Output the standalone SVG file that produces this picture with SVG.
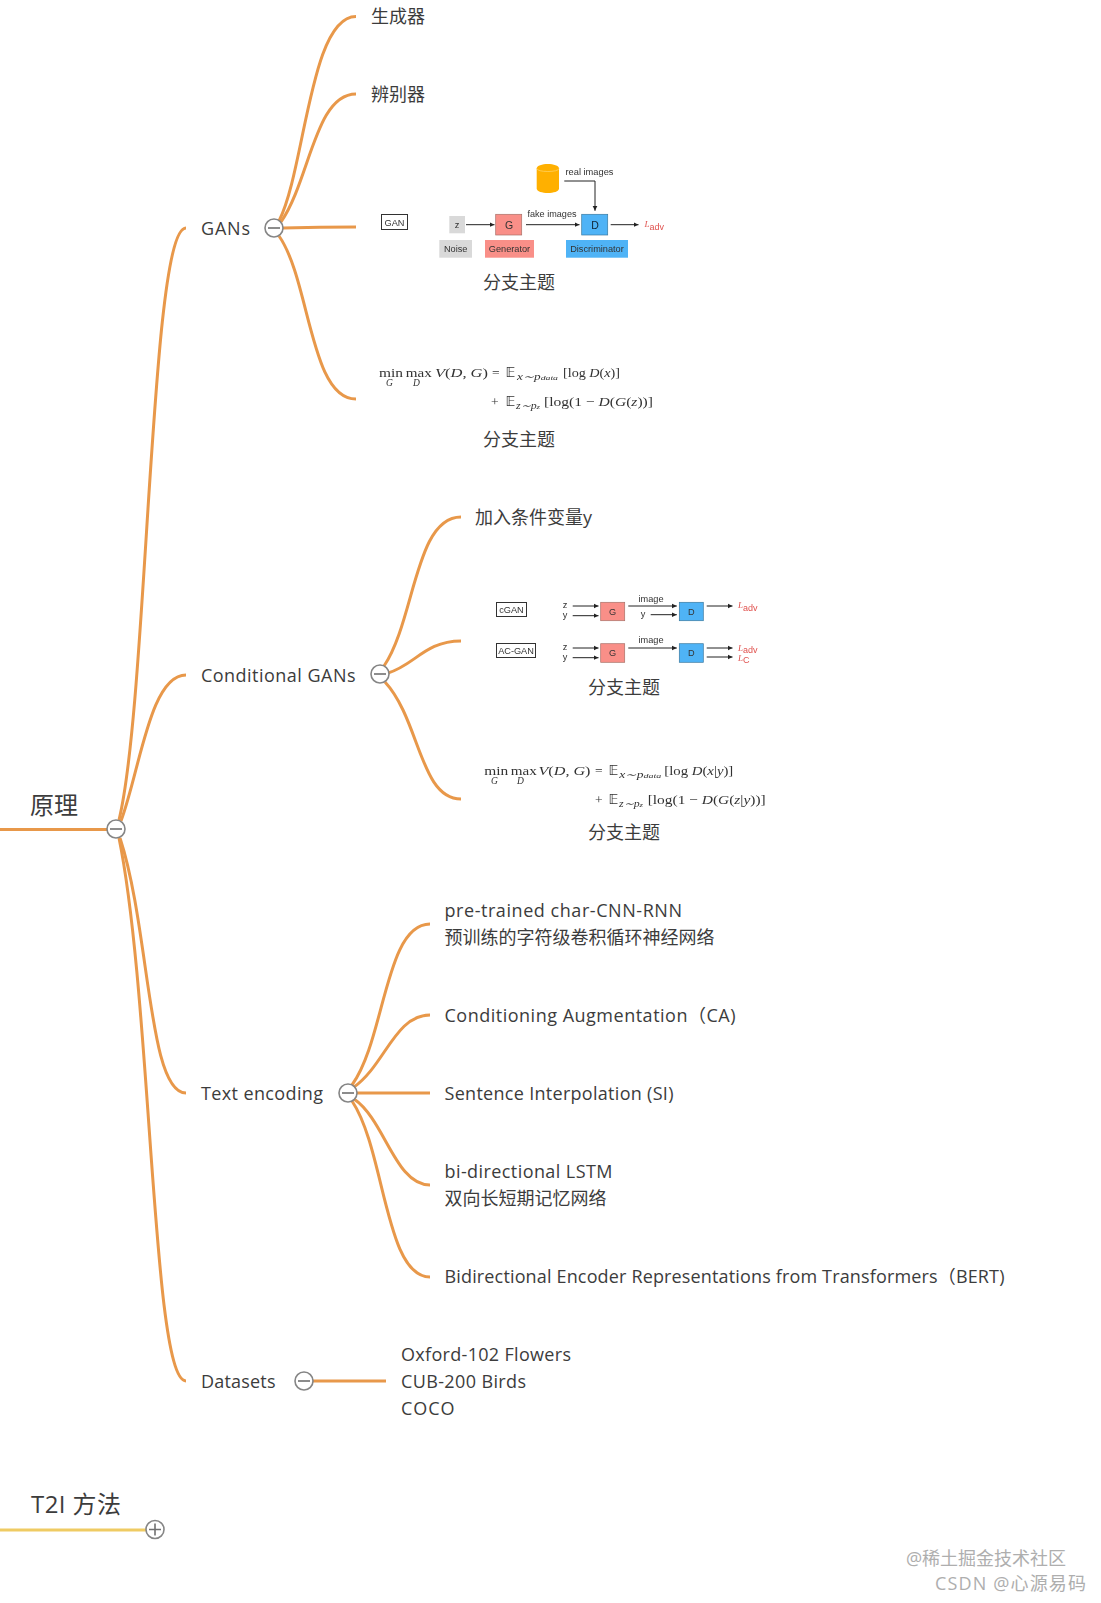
<svg xmlns="http://www.w3.org/2000/svg" width="1101" height="1603" viewBox="0 0 1101 1603">
<style>
text{font-family:"Open Sans","Noto Sans","Noto Sans CJK SC",sans-serif;fill:#3c3c3c}
.t{font-size:18px}
.r{font-size:24px}
.c{fill:none;stroke:#e8984a;stroke-width:3}
.y{stroke:#efcb63}
.k{fill:#fff;stroke:#858585;stroke-width:1.6}
.m{stroke:#707070;stroke-width:1.6;fill:none}
.f text{font-family:"Liberation Sans",Arial,sans-serif;fill:#333}
.b{fill:#fff;stroke:#333;stroke-width:1}
.g{fill:#f98f88;stroke:#a87068;stroke-width:.7}
.d{fill:#4fb3f6;stroke:#3a7aa0;stroke-width:.7}
.a{stroke:#222;stroke-width:1;fill:none;marker-end:url(#ar)}
.s{font-size:9.2px;text-anchor:middle}
.n{font-size:10.500px;text-anchor:middle}
.l{font-family:"Liberation Serif",serif!important;font-style:italic;fill:#e0524f!important;font-size:9px}
.e text{font-family:"Liberation Serif",serif;fill:#333;font-size:13.5px}
.e .i{font-style:italic}
.e .sm{font-style:italic;font-size:9.5px}
.e .db{font-family:"DejaVu Sans",sans-serif;font-size:13.5px}
.w{font-size:18px;fill:#aeaeae}
</style>
<defs>
<marker id="ar" markerUnits="userSpaceOnUse" markerWidth="6" markerHeight="6" refX="5" refY="3" orient="auto"><path d="M0 .6L5 3L0 5.4Z" fill="#222"/></marker>
<filter id="bl" x="-5%" y="-5%" width="110%" height="110%"><feGaussianBlur stdDeviation="0.3"/></filter>
</defs>
<rect width="1101" height="1603" fill="#fff"/>

<g id="connectors">
<path class="c" d="M0 829.5H107"/>
<path class="c" d="M119 820C148 700 150 228 186 228"/>
<path class="c" d="M121 821C140 770 150 675 186 675"/>
<path class="c" d="M120 838C150 930 148 1093 186 1093"/>
<path class="c" d="M119 838C152 1000 152 1381 186 1381"/>
<path class="c" d="M279 221C305 170 310 16.5 356 16.5"/>
<path class="c" d="M281 222C310 180 315 94 356 94"/>
<path class="c" d="M283 228Q320 227 356 227"/>
<path class="c" d="M279 236C310 280 310 399 356 399"/>
<path class="c" d="M384 666C415 620 415 517 461 517"/>
<path class="c" d="M388 673C415 665 425 641 461 641"/>
<path class="c" d="M385 682C420 720 420 799 461 799"/>
<path class="c" d="M352 1085C385 1040 385 924 430 924"/>
<path class="c" d="M354 1087C385 1065 395 1015 430 1015"/>
<path class="c" d="M357 1093H430"/>
<path class="c" d="M354 1099C385 1120 395 1185 430 1185"/>
<path class="c" d="M352 1101C385 1150 385 1277 430 1277"/>
<path class="c" d="M313 1381H386"/>
<path class="c y" d="M0 1530H146"/>
</g>

<g id="node-root1">
<text class="r" x="30" y="814">原理</text>
<circle class="k" cx="116" cy="829" r="9"/><path class="m" d="M110 829H122"/>
</g>
<g id="node-t2i">
<text class="r" x="31" y="1513" textLength="90">T2I 方法</text>
<circle class="k" cx="155" cy="1529.500" r="9"/><path class="m" d="M149 1529.500H161M155 1523.500V1535.500"/>
</g>

<g id="node-gans">
<text class="t" x="201" y="235" textLength="49">GANs</text>
<circle class="k" cx="274" cy="228" r="9"/><path class="m" d="M268 228H280"/>
</g>
<g id="node-cgans">
<text class="t" x="201" y="682" textLength="154.500">Conditional GANs</text>
<circle class="k" cx="380" cy="674" r="9"/><path class="m" d="M374 674H386"/>
</g>
<g id="node-text-encoding">
<text class="t" x="201" y="1100" textLength="122">Text encoding</text>
<circle class="k" cx="348" cy="1093" r="9"/><path class="m" d="M342 1093H354"/>
</g>
<g id="node-datasets">
<text class="t" x="201" y="1388" textLength="74.500">Datasets</text>
<circle class="k" cx="304" cy="1381" r="9"/><path class="m" d="M298 1381H310"/>
</g>

<g id="node-generator"><text class="t" x="371" y="23">生成器</text></g>
<g id="node-discriminator"><text class="t" x="371" y="101">辨别器</text></g>

<g id="node-gan-figure">
<g class="f" filter="url(#bl)">
<rect class="b" x="381.500" y="214.500" width="26" height="15"/>
<text class="s" x="394.500" y="225.500">GAN</text>
<rect x="449.300" y="216" width="15.700" height="17.300" fill="#d9d9d9"/>
<text class="s" x="457" y="228">z</text>
<path class="a" d="M466 224.700H494.500"/>
<rect class="g" x="495.700" y="214.300" width="26" height="20.700"/>
<text class="n" x="509" y="228.500">G</text>
<path class="a" d="M526 224.700H579.500"/>
<text class="s" x="552" y="217" textLength="49" lengthAdjust="spacingAndGlyphs">fake images</text>
<rect class="d" x="581.700" y="214.300" width="26" height="20.700"/>
<text class="n" style="fill:#123" x="595" y="228.500">D</text>
<path class="a" d="M610.700 224.700H638.500"/>
<text class="l" x="644.500" y="227">L<tspan font-family="Liberation Sans" font-style="normal" dy="2.500">adv</tspan></text>
<rect x="439.300" y="240" width="32.700" height="17.700" fill="#d9d9d9"/>
<text class="s" x="455.700" y="252">Noise</text>
<rect x="485" y="240" width="49" height="17.700" fill="#f98f88"/>
<text class="s" x="509.500" y="252">Generator</text>
<rect x="566" y="240" width="62" height="17.700" fill="#4fb3f6"/>
<text class="s" x="597" y="252">Discriminator</text>
<path d="M536.700 168.500C536.700 162.500 559 162.500 559 168.500V188.500C559 194.500 536.700 194.500 536.700 188.500Z" fill="#ffb000"/>
<path d="M536.700 168.500C536.700 172.500 559 172.500 559 168.500" fill="none" stroke="#ffd060" stroke-width=".8"/>
<text class="s" x="589.500" y="175" textLength="48" lengthAdjust="spacingAndGlyphs">real images</text>
<path class="a" d="M564.300 181H595V210.800"/>
</g>
<text class="t" x="483" y="289">分支主题</text>
</g>

<g id="node-gan-formula">
<g class="e" filter="url(#bl)">
<text x="379" y="377" textLength="24" lengthAdjust="spacingAndGlyphs">min</text>
<text x="405.700" y="377" textLength="26" lengthAdjust="spacingAndGlyphs">max</text>
<text class="sm" x="386" y="386">G</text>
<text class="sm" x="413" y="386">D</text>
<text x="435" y="377" textLength="53" lengthAdjust="spacingAndGlyphs"><tspan class="i">V</tspan>(<tspan class="i">D</tspan>, <tspan class="i">G</tspan>)</text>
<text x="492" y="377">=</text>
<text class="db" x="505.500" y="377">𝔼</text>
<text class="sm" x="517" y="380" textLength="41" lengthAdjust="spacingAndGlyphs">x∼p<tspan font-size="7">data</tspan></text>
<text x="563" y="377" textLength="57" lengthAdjust="spacingAndGlyphs">[log <tspan class="i">D</tspan>(<tspan class="i">x</tspan>)]</text>
<text x="491" y="405.500">+</text>
<text class="db" x="505.500" y="405.500">𝔼</text>
<text class="sm" x="516" y="408.500" textLength="24" lengthAdjust="spacingAndGlyphs">z∼p<tspan font-size="7">z</tspan></text>
<text x="544" y="405.500" textLength="109" lengthAdjust="spacingAndGlyphs">[log(1 − <tspan class="i">D</tspan>(<tspan class="i">G</tspan>(<tspan class="i">z</tspan>))]</text>
</g>
<text class="t" x="483" y="446">分支主题</text>
</g>

<g id="node-condition"><text class="t" x="475" y="524">加入条件变量y</text></g>

<g id="node-cgan-figure">
<g class="f" filter="url(#bl)">
<rect class="b" x="496.500" y="602.500" width="30" height="14"/>
<text class="s" x="511.500" y="612.800">cGAN</text>
<rect class="b" x="496.500" y="643.500" width="39" height="14"/>
<text class="s" x="516" y="654">AC-GAN</text>
<text class="s" x="565" y="608">z</text>
<text class="s" x="565" y="618">y</text>
<path class="a" d="M572.700 606H598.500"/>
<path class="a" d="M572.700 615.700H598.500"/>
<rect class="g" x="600.700" y="602.300" width="24" height="18.400"/>
<text class="s" x="612.700" y="614.500">G</text>
<text class="s" x="651" y="602">image</text>
<path class="a" d="M628.300 606H676.800"/>
<text class="s" x="643" y="616.500">y</text>
<path class="a" d="M650.700 614.700H676.800"/>
<rect class="d" x="679.300" y="602.300" width="24" height="18.400"/>
<text class="s" x="691.300" y="614.500">D</text>
<path class="a" d="M706.700 606H732.500"/>
<text class="l" x="738" y="608">L<tspan font-family="Liberation Sans" font-style="normal" dy="2.500">adv</tspan></text>
<text class="s" x="565" y="650">z</text>
<text class="s" x="565" y="660">y</text>
<path class="a" d="M572.700 648H598.500"/>
<path class="a" d="M572.700 657.700H598.500"/>
<rect class="g" x="600.700" y="643.700" width="24" height="18.600"/>
<text class="s" x="612.700" y="656">G</text>
<text class="s" x="651" y="643">image</text>
<path class="a" d="M628.300 648H676.800"/>
<rect class="d" x="679.300" y="643.700" width="24" height="18.600"/>
<text class="s" x="691.300" y="656">D</text>
<path class="a" d="M706.700 648H732.500"/>
<path class="a" d="M706.700 657H732.500"/>
<text class="l" x="738" y="650.500">L<tspan font-family="Liberation Sans" font-style="normal" dy="2.500">adv</tspan></text>
<text class="l" x="738" y="660.500">L<tspan font-family="Liberation Sans" font-style="normal" dy="2.500">C</tspan></text>
</g>
<text class="t" x="588" y="694">分支主题</text>
</g>

<g id="node-cgan-formula">
<g class="e" filter="url(#bl)">
<text x="484.300" y="775" textLength="24" lengthAdjust="spacingAndGlyphs">min</text>
<text x="510.700" y="775" textLength="26" lengthAdjust="spacingAndGlyphs">max</text>
<text class="sm" x="491" y="783.500">G</text>
<text class="sm" x="517" y="783.500">D</text>
<text x="538.500" y="775" textLength="52" lengthAdjust="spacingAndGlyphs"><tspan class="i">V</tspan>(<tspan class="i">D</tspan>, <tspan class="i">G</tspan>)</text>
<text x="595" y="775">=</text>
<text class="db" x="608.500" y="775">𝔼</text>
<text class="sm" x="619.300" y="778" textLength="42" lengthAdjust="spacingAndGlyphs">x∼p<tspan font-size="7">data</tspan></text>
<text x="664.300" y="775" textLength="69" lengthAdjust="spacingAndGlyphs">[log <tspan class="i">D</tspan>(<tspan class="i">x</tspan>|<tspan class="i">y</tspan>)]</text>
<text x="595" y="803.500">+</text>
<text class="db" x="608.500" y="803.500">𝔼</text>
<text class="sm" x="619" y="806.500" textLength="24" lengthAdjust="spacingAndGlyphs">z∼p<tspan font-size="7">z</tspan></text>
<text x="647.700" y="803.500" textLength="118" lengthAdjust="spacingAndGlyphs">[log(1 − <tspan class="i">D</tspan>(<tspan class="i">G</tspan>(<tspan class="i">z</tspan>|<tspan class="i">y</tspan>))]</text>
</g>
<text class="t" x="588" y="839">分支主题</text>
</g>

<g id="node-char-cnn"><text class="t" x="444.500" y="917" textLength="237.500">pre-trained char-CNN-RNN</text><text class="t" x="444.500" y="944">预训练的字符级卷积循环神经网络</text></g>
<g id="node-ca"><text class="t" x="444.500" y="1022" textLength="291">Conditioning Augmentation（CA)</text></g>
<g id="node-si"><text class="t" x="444.500" y="1100" textLength="229">Sentence Interpolation (SI)</text></g>
<g id="node-lstm"><text class="t" x="444.500" y="1178" textLength="168">bi-directional LSTM</text><text class="t" x="444.500" y="1205">双向长短期记忆网络</text></g>
<g id="node-bert"><text class="t" x="444.500" y="1283" textLength="560">Bidirectional Encoder Representations from Transformers（BERT)</text></g>
<g id="node-datasets-list"><text class="t" x="401" y="1361" textLength="170">Oxford-102 Flowers</text><text class="t" x="401" y="1388" textLength="125">CUB-200 Birds</text><text class="t" x="401" y="1415" textLength="53.500">COCO</text></g>

<g id="watermark">
<text class="w" x="906" y="1565" textLength="160">@稀土掘金技术社区</text>
<text class="w" x="935" y="1590" textLength="151">CSDN @心源易码</text>
</g>
</svg>
